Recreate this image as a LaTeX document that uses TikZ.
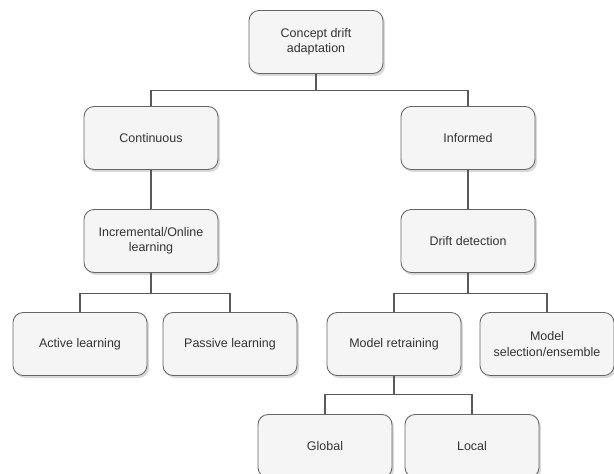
\documentclass[tikz,border=0pt]{standalone}
\usepackage{fontspec}
\setmainfont{Liberation Sans}
\usepackage{tikz}
\usetikzlibrary{shadows}
\definecolor{boxfill}{HTML}{F5F5F5}
\definecolor{boxline}{HTML}{666666}
\definecolor{linkline}{HTML}{595959}
\definecolor{txt}{HTML}{333333}
\tikzset{
  box/.style={draw=boxline, fill=boxfill, rounded corners=0.2cm, line width=0.5pt,
    minimum width=2.68cm, minimum height=1.26cm, align=center, text=txt,
    font=\fontsize{7.1}{8.6}\selectfont,
    drop shadow={shadow xshift=0.04cm, shadow yshift=-0.05cm, opacity=0.25, fill=black!60}},
  link/.style={draw=linkline, line width=0.6pt}
}

\begin{document}
\begin{tikzpicture}[x=0.02cm, y=-0.02cm]
\useasboundingbox[fill=white] (0,0) rectangle (614,473);
\node[box] (root) at (316,42) {Concept drift\\adaptation};
\node[box] (cont) at (151,138) {Continuous};
\node[box] (inf) at (468,138) {Informed};
\node[box] (inc) at (151,241) {Incremental/Online\\learning};
\node[box] (drift) at (468,241) {Drift detection};
\node[box] (active) at (80,344) {Active learning};
\node[box] (passive) at (230,344) {Passive learning};
\node[box] (retrain) at (394,344) {Model retraining};
\node[box] (select) at (547,344) {Model\\selection/ensemble};
\node[box] (global) at (325,446) {Global};
\node[box] (local) at (472,446) {Local};

% tree links
\draw[link] (root.south) -- +(0,17) -| (cont.north);
\draw[link] (root.south) -- +(0,17) -| (inf.north);
\draw[link] (cont) -- (inc);
\draw[link] (inf) -- (drift);
\draw[link] (inc.south) -- +(0,21) -| (active.north);
\draw[link] (inc.south) -- +(0,21) -| (passive.north);
\draw[link] (drift.south) -- +(0,21) -| (retrain.north);
\draw[link] (drift.south) -- +(0,21) -| (select.north);
\draw[link] (retrain.south) -- +(0,19) -| (global.north);
\draw[link] (retrain.south) -- +(0,19) -| (local.north);
\end{tikzpicture}
\end{document}
